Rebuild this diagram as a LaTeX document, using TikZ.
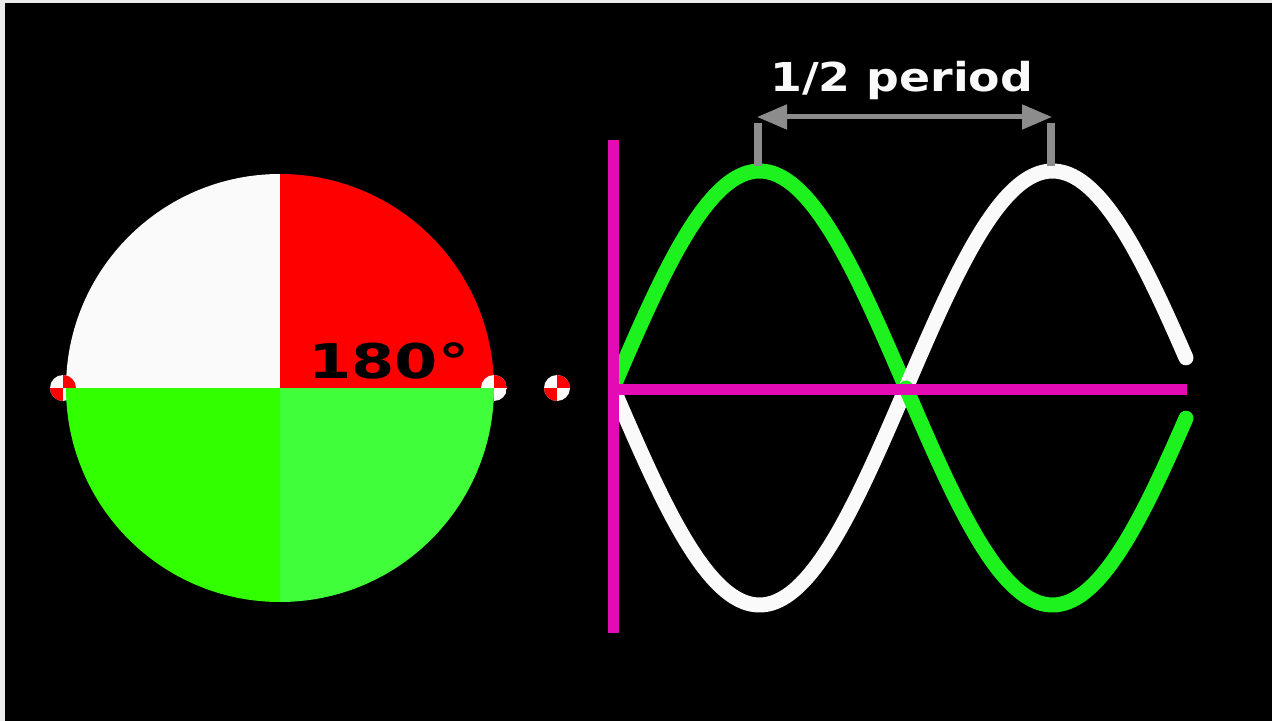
\documentclass[tikz,border=0pt]{standalone}
\usepackage{fontspec}
\setmainfont{DejaVu Sans}
\usetikzlibrary{arrows.meta}
\definecolor{framegrey}{RGB}{236,236,236}
\definecolor{cred}{RGB}{255,0,0}
\definecolor{cwhite}{RGB}{250,250,250}
\definecolor{greenA}{RGB}{50,255,0}
\definecolor{greenB}{RGB}{64,255,58}
\definecolor{wavegreen}{RGB}{30,242,30}
\definecolor{magentaaxis}{RGB}{228,10,180}
\definecolor{arrowgrey}{RGB}{140,140,140}
\tikzset{
  wave/.style={line width=15bp, line cap=round},
  axisline/.style={magentaaxis, line width=11bp},
  greyline/.style={arrowgrey, line width=8bp},
  dimarrow/.style={arrowgrey, line width=5bp,
    {Triangle[length=30bp,width=24bp]}-{Triangle[length=30bp,width=24bp]}},
  chk/.pic={
    \begin{scope}
      \clip (0,0) circle (13);
      \fill[cwhite] (-13,-13) rectangle (13,13);
      \fill[cred] (0,0) rectangle (13,-13);
      \fill[cred] (0,0) rectangle (-13,13);
    \end{scope}
  }
}
\begin{document}
\begin{tikzpicture}[x=1bp,y=-1bp]
\useasboundingbox (0,0) rectangle (1272,721);
\fill[framegrey] (-5,-5) rectangle (1280,730);
\fill[black] (5,3) rectangle (1280,730);

% phase circle, upper half
\coordinate (disc) at (280,388);
\begin{scope}
  \clip (disc) circle (214);
  \fill[cwhite] (60,170) rectangle (280,388);
  \fill[cred] (280,170) rectangle (500,388);
\end{scope}

% checkered markers
\pic (m1) at (63,388) {chk};
\pic (m2) at (494,388) {chk};
\pic (m3) at (557,388) {chk};

% lower half
\begin{scope}
  \clip (disc) circle (214);
  \fill[greenA] (60,388) rectangle (280,610);
  \fill[greenB] (280,388) rectangle (500,610);
\end{scope}

\node[anchor=base west, inner sep=0pt, text=black, xscale=1.3,
      font=\fontsize{48}{48}\selectfont\bfseries] (deg) at (308,378) {180°};

% waves: first halves, then second halves
\begin{scope}
\clip (613,100) rectangle (1272,700);
\draw[wave, cwhite] plot[domain=0:180, samples=90, smooth] ({613+1.62778*\x},{388+217*sin(\x)});
\draw[wave, wavegreen] plot[domain=0:180, samples=90, smooth] ({613+1.62778*\x},{388-217*sin(\x)});
\draw[wave, cwhite] plot[domain=180:352, samples=90, smooth] ({613+1.62778*\x},{388+217*sin(\x)});
\draw[wave, wavegreen] plot[domain=180:352, samples=90, smooth] ({613+1.62778*\x},{388-217*sin(\x)});
\end{scope}

% axes
\coordinate (vt) at (613,140);
\coordinate (vb) at (613,633);
\coordinate (hl) at (613,389);
\coordinate (hr) at (1187,389);
\draw[axisline] (hl) -- (hr);
\draw[axisline] (vt) -- (vb);

% half period marker
\coordinate (t1a) at (758,123);
\coordinate (t1b) at (758,166);
\coordinate (t2a) at (1051,123);
\coordinate (t2b) at (1051,166);
\draw[greyline] (t1a) -- (t1b);
\draw[greyline] (t2a) -- (t2b);
\coordinate (aL) at (757,117);
\coordinate (aR) at (1052,117);
\draw[dimarrow] (aL) -- (aR);

\node[anchor=base west, inner sep=0pt, text=cwhite, xscale=1.15,
      font=\fontsize{40}{40}\selectfont\bfseries] (half) at (770,92) {1/2 period};
\end{tikzpicture}
\end{document}
